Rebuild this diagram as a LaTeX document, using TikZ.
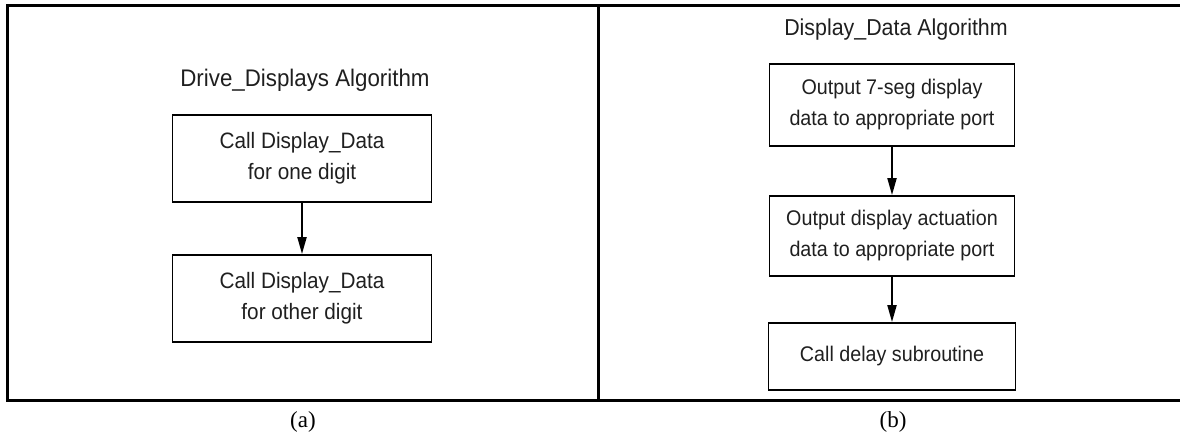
\documentclass[tikz,border=0pt]{standalone}
\usepackage{fontspec}
\setmainfont{Liberation Serif}
\newfontfamily\boxfont[FakeStretch=0.93]{Liberation Sans}
\usetikzlibrary{arrows.meta}
\tikzset{
  frameline/.style={line width=3pt, line cap=rect},
  flowbox/.style={draw, line width=1.8pt, align=center, inner sep=0pt, text=black!88},
  lefttext/.style={font=\boxfont\fontsize{22.3}{31}\selectfont},
  righttext/.style={font=\boxfont\fontsize{21.2}{31}\selectfont},
  titletext/.style={text=black!88},
  captiontext/.style={font=\fontsize{23}{26}\selectfont},
  arr/.style={line width=2pt, -{Triangle[length=17pt,width=9pt]}}
}
\begin{document}
\begin{tikzpicture}[x=1pt,y=-1pt]
\useasboundingbox (0,0) rectangle (1180,438);
% frame
\coordinate (ftr) at (1180,6);
\coordinate (ftl) at (7,6);
\coordinate (fbl) at (7,400);
\coordinate (fbr) at (1180,400);
\coordinate (dtop) at (598,6);
\coordinate (dbot) at (598,400);
\draw[frameline] (ftr) -- (ftl) -- (fbl) -- (fbr);
\draw[frameline] (dtop) -- (dbot);

% panel (a)
\node[titletext, font=\boxfont\fontsize{24}{28}\selectfont] (ta) at (305,80) {Drive\_Displays Algorithm};
\node[flowbox, lefttext, minimum width=259pt, minimum height=87pt] (a1) at (302,158.5)
  {Call Display\_Data\\for one digit};
\node[flowbox, lefttext, minimum width=259pt, minimum height=87pt] (a2) at (302,298.5)
  {Call Display\_Data\\for other digit};
\draw[arr] (a1) -- (a2);
\node[captiontext] (ca) at (303,422) {(a)};

% panel (b)
\node[titletext, font=\boxfont\fontsize{23}{28}\selectfont] (tb) at (896,30) {Display\_Data Algorithm};
\node[flowbox, righttext, minimum width=245pt, minimum height=82pt] (b1) at (892,105)
  {Output 7-seg display\\data to appropriate port};
\node[flowbox, righttext, minimum width=245pt, minimum height=80pt] (b2) at (892,236)
  {Output display actuation\\data to appropriate port};
\node[flowbox, righttext, minimum width=247pt, minimum height=67pt] (b3) at (892,356.5)
  {Call delay subroutine};
\draw[arr] (b1) -- (b2);
\draw[arr] (b2) -- (b3);
\node[captiontext] (cb) at (893,422) {(b)};
\end{tikzpicture}
\end{document}
